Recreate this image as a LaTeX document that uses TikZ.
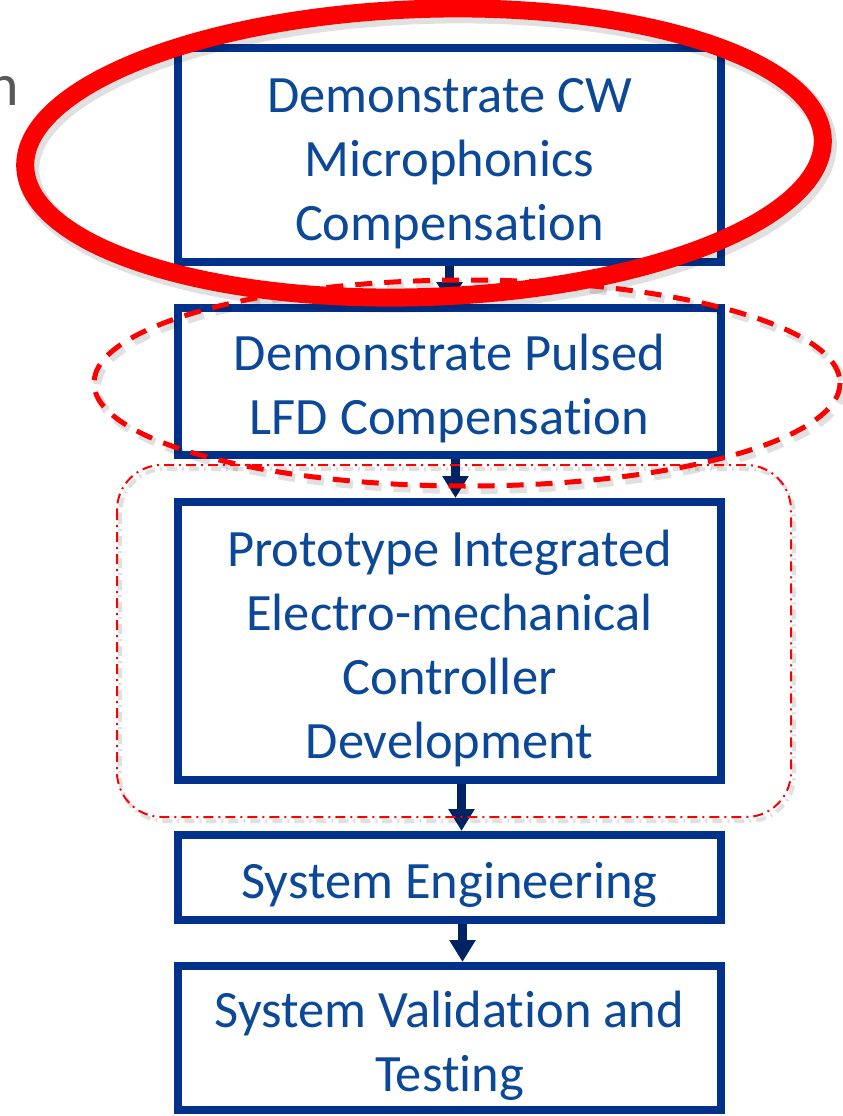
\documentclass[tikz,border=0pt]{standalone}
\usepackage{fontspec}
\setmainfont{Carlito}[Ligatures=NoCommon]
\usetikzlibrary{arrows.meta}
\definecolor{boxblue}{RGB}{0,50,140}
\definecolor{txtblue}{RGB}{12,72,152}
\definecolor{arrnavy}{RGB}{0,35,100}
\definecolor{ngrey}{RGB}{89,89,89}
\definecolor{hired}{RGB}{255,0,0}
\newcommand\topstr{\rule{0pt}{51pt}}
\begin{document}
\begin{tikzpicture}[x=1pt,y=-1pt,
  box/.style={draw=boxblue, line width=8pt, fill=white, text=txtblue, align=center,
    minimum width=543pt, inner sep=0pt, font=\fontsize{52.5}{64}\selectfont},
  arr/.style={draw=arrnavy, line width=9pt, -{Triangle[width=25pt,length=22pt]}},
  shade/.style={draw=black, opacity=0.12},
  mark1/.style={draw=hired, line width=18pt},
  mark2/.style={draw=hired, line width=5pt, dash pattern=on 17pt off 12pt},
  mark3/.style={draw=hired, line width=2pt, dash pattern=on 10pt off 5pt on 2pt off 5pt, rounded corners=45pt}]
\useasboundingbox (0,0) rectangle (843,1116);
\fill[white] (0,0) rectangle (843,1116);

\node[text=ngrey, anchor=base east, inner sep=0pt, font=\fontsize{60}{72}\selectfont] (frag) at (19,105) {n};

\node[box, minimum height=214pt] (b1) at (449.5,155) {\topstr Demonstrate CW\\Microphonics\\Compensation};
\node[box, minimum height=147pt] (b2) at (449.5,381.5) {\topstr Demonstrate Pulsed\\LFD Compensation};
\node[box, minimum height=278pt] (b3) at (449.5,641) {\topstr Prototype Integrated\\Electro-mechanical\\Controller\\Development};
\node[box, minimum height=85pt] (b4) at (449.5,877.5) {\topstr System Engineering};
\node[box, minimum height=144pt] (b5) at (449.5,1038) {\topstr System Validation and\\Testing};

\draw[arr] (b1.south) -- (b2.north);
\draw[arr] ([xshift=6pt]b2.south) -- ([xshift=6pt]b3.north);
\draw[arr] ([xshift=12pt]b3.south) -- ([xshift=12pt]b4.north);
\draw[arr] ([xshift=13pt]b4.south) -- ([xshift=13pt]b5.north);

% shadows
\draw[shade, line width=4pt, dash pattern=on 10pt off 5pt on 2pt off 5pt, rounded corners=45pt] (120,469) rectangle (794,821);
\draw[shade, line width=8pt, dash pattern=on 17pt off 12pt] (470,387) ellipse [x radius=373, y radius=103];
\draw[shade, line width=22pt, rotate around={2:(427,157)}] (427,157) ellipse [x radius=399, y radius=144];

% red marks
\coordinate (c1) at (424,153);
\coordinate (c2) at (467,383);
\draw[mark3] (117,465) rectangle (791,817);
\draw[mark2] (c2) ellipse [x radius=373, y radius=103];
\draw[mark1, rotate around={2:(c1)}] (c1) ellipse [x radius=399, y radius=144];
\end{tikzpicture}
\end{document}
